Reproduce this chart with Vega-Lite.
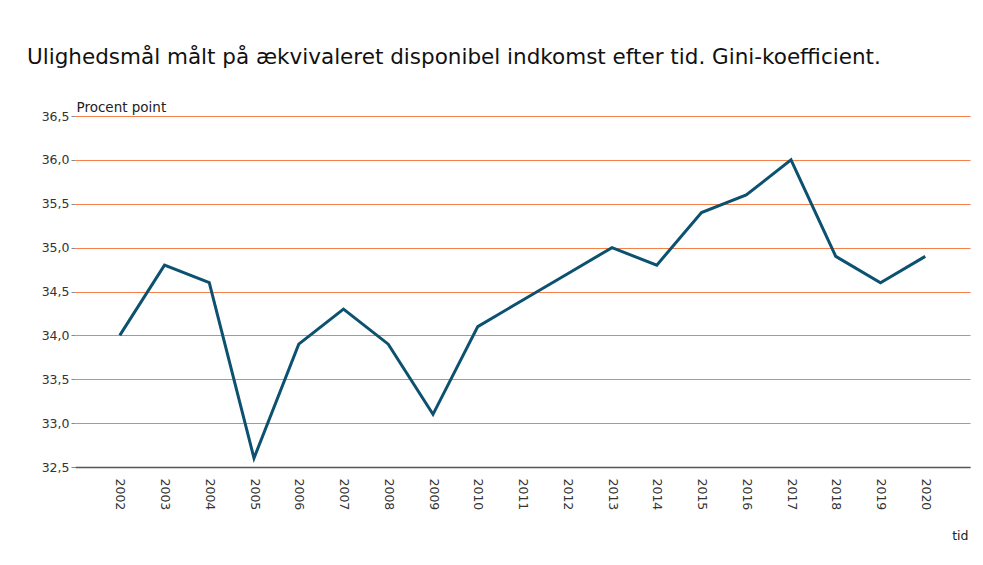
{
  "$schema": "https://vega.github.io/schema/vega-lite/v6.json",
  "width": 895,
  "height": 351,
  "autosize": {"type": "none"},
  "padding": {"left": 75, "top": 116, "right": 13, "bottom": 98},
  "background": "white",
  "title": {
    "text": "Ulighedsmål målt på ækvivaleret disponibel indkomst efter tid. Gini-koefficient.",
    "anchor": "start",
    "frame": "group",
    "dx": -48,
    "font": "DejaVu Sans",
    "fontSize": 21.5,
    "fontWeight": "normal",
    "color": "#111111",
    "offset": 32
  },
  "config": {
    "view": {"stroke": null},
    "font": "DejaVu Sans"
  },
  "data": {
    "values": [
      {"tid": "2002", "gini": 34.0},
      {"tid": "2003", "gini": 34.8},
      {"tid": "2004", "gini": 34.6},
      {"tid": "2005", "gini": 32.6},
      {"tid": "2006", "gini": 33.9},
      {"tid": "2007", "gini": 34.3},
      {"tid": "2008", "gini": 33.9},
      {"tid": "2009", "gini": 33.1},
      {"tid": "2010", "gini": 34.1},
      {"tid": "2011", "gini": 34.4},
      {"tid": "2012", "gini": 34.7},
      {"tid": "2013", "gini": 35.0},
      {"tid": "2014", "gini": 34.8},
      {"tid": "2015", "gini": 35.4},
      {"tid": "2016", "gini": 35.6},
      {"tid": "2017", "gini": 36.0},
      {"tid": "2018", "gini": 34.9},
      {"tid": "2019", "gini": 34.6},
      {"tid": "2020", "gini": 34.9}
    ]
  },
  "mark": {"type": "line", "color": "#0d5171", "strokeWidth": 3},
  "encoding": {
    "x": {
      "field": "tid",
      "type": "ordinal",
      "scale": {"type": "point", "padding": 1},
      "axis": {
        "title": "tid",
        "titleAnchor": "end",
        "titleAlign": "right",
        "titleX": 893,
        "titleY": 72,
        "titleBaseline": "alphabetic",
        "titleFontSize": 12.5,
        "titleFontWeight": "normal",
        "titleColor": "#222222",
        "labelAngle": 90,
        "labelAlign": "left",
        "labelBaseline": "middle",
        "labelPadding": 11,
        "labelFontSize": 12.5,
        "labelColor": "#333333",
        "ticks": false,
        "domainColor": "#555555",
        "domainWidth": 1.5,
        "grid": false
      }
    },
    "y": {
      "field": "gini",
      "type": "quantitative",
      "scale": {"domain": [32.5, 36.5], "nice": false, "zero": false},
      "axis": {
        "title": "Procent point",
        "titleAngle": 0,
        "titleAlign": "left",
        "titleBaseline": "alphabetic",
        "titleX": 1,
        "titleY": -5,
        "titleFontSize": 13.5,
        "titleFontWeight": "normal",
        "titleColor": "#222222",
        "values": [32.5, 33, 33.5, 34, 34.5, 35, 35.5, 36, 36.5],
        "labelExpr": "replace(format(datum.value, '.1f'), '.', ',')",
        "labelFontSize": 12.5,
        "labelColor": "#333333",
        "labelPadding": 2,
        "tickSize": 4,
        "tickColor": "#888888",
        "domain": false,
        "grid": true,
        "gridColor": "#f5804a",
        "gridWidth": 1
      }
    }
  }
}
